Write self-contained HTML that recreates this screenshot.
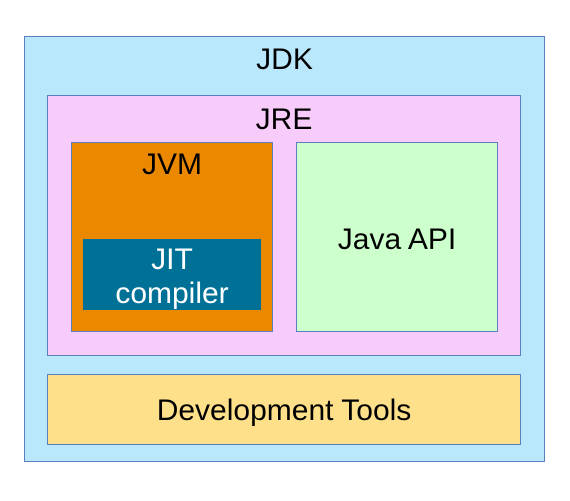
<!DOCTYPE html>
<html><head><style>
body{margin:0;width:570px;height:501px;background:#fff;position:relative;font-family:"Liberation Sans",sans-serif;}
.b{position:absolute;box-sizing:border-box;border:1px solid #5b7fbf;}
.t{position:absolute;left:0;right:0;text-align:center;font-size:30px;color:#000;line-height:30px;}
</style></head><body>
<div class="b" style="left:24px;top:36px;width:521px;height:426px;background:#b9e7fc"></div>
<div class="t" style="left:24px;width:521px;top:45px">JDK</div>
<div class="b" style="left:47px;top:95px;width:474px;height:261px;background:#f7ccfa"></div>
<div class="t" style="left:47px;width:474px;top:105px">JRE</div>
<div class="b" style="left:71px;top:142px;width:202px;height:190px;background:#ea8800"></div>
<div class="t" style="left:71px;width:202px;top:150px">JVM</div>
<div style="position:absolute;left:83px;top:239px;width:178px;height:71px;background:#007196"></div>
<div class="t" style="left:83px;width:178px;top:243px;color:#fff;line-height:34px">JIT<br>compiler</div>
<div class="b" style="left:296px;top:142px;width:202px;height:190px;background:#ccffcc"></div>
<div class="t" style="left:296px;width:202px;top:225px">Java API</div>
<div class="b" style="left:47px;top:374px;width:474px;height:71px;background:#ffe08a"></div>
<div class="t" style="left:47px;width:474px;top:396px">Development Tools</div>
</body></html>
